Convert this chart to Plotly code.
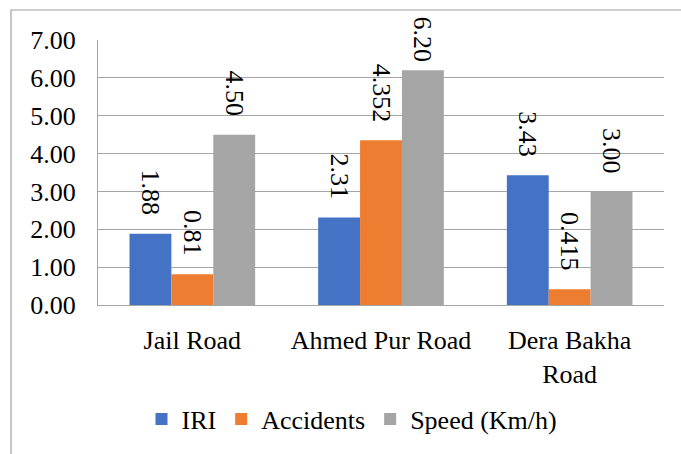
import plotly.graph_objects as go

categories = ["Jail Road", "Ahmed Pur Road", "Dera Bakha<br>Road"]
iri = [1.88, 2.31, 3.43]
accidents = [0.81, 4.352, 0.415]
speed = [4.50, 6.20, 3.00]
iri_labels = ["1.88", "2.31", "3.43"]
acc_labels = ["0.81", "4.352", "0.415"]
speed_labels = ["4.50", "6.20", "3.00"]
tick_vals = [0, 1, 2, 3, 4, 5, 6, 7]
tick_text = ["0.00", "1.00", "2.00", "3.00", "4.00", "5.00", "6.00", "7.00"]

W, H = 681, 454
ML, MR, MT, MB = 98, 17, 40, 149
FONT = "Liberation Serif, Times New Roman, serif"
FS = 26
BARGAP = 0.334
YMAX = 7

series = [
    ("IRI", iri, iri_labels, "#4472C4"),
    ("Accidents", accidents, acc_labels, "#ED7D31"),
    ("Speed (Km/h)", speed, speed_labels, "#A5A5A5"),
]

fig = go.Figure()
for name, vals, _, col in series:
    fig.add_trace(go.Bar(x=categories, y=vals, name=name, marker_color=col,
                         marker_line_width=0, hoverinfo="skip"))

plot_w = W - ML - MR
plot_h = H - MT - MB
bar_w = plot_w / len(categories) * (1 - BARGAP) / len(series)
px_per_unit = plot_h / YMAX

annotations = []
for i, (name, vals, labels, col) in enumerate(series):
    xs = (i - 1) * bar_w
    for c, v, lab in zip(categories, vals, labels):
        label_len = len(lab) * 0.5 * FS * 0.95
        top_px = MT + plot_h - v * px_per_unit  # bar top in pixels
        gap = 16
        if top_px - gap - label_len < 18:
            gap = max(6, top_px - 18 - label_len)
        annotations.append(dict(
            x=c, y=v, xref="x", yref="y", text=lab, showarrow=False,
            textangle=90, xanchor="center", yanchor="bottom",
            xshift=xs, yshift=gap,
            font=dict(family=FONT, size=FS, color="#000000")))

legend_center_px = 419
legend_center_x_px = 352
fig.update_layout(
    width=W, height=H,
    margin=dict(l=ML, r=MR, t=MT, b=MB, autoexpand=False),
    paper_bgcolor="white", plot_bgcolor="white",
    barmode="group", bargap=BARGAP, bargroupgap=0,
    font=dict(family=FONT, size=FS, color="#000000"),
    showlegend=True,
    legend=dict(orientation="h", x=(legend_center_x_px - ML) / plot_w, xanchor="center",
                y=-(legend_center_px - MT - plot_h) / plot_h, yanchor="middle",
                font=dict(family=FONT, size=FS, color="#000000"), itemwidth=30,
                traceorder="normal", bgcolor="rgba(0,0,0,0)"),
    annotations=annotations,
    xaxis=dict(showgrid=False, showline=True, linecolor="#a6a6a6", linewidth=1,
               ticks="", tickfont=dict(family=FONT, size=FS), fixedrange=True,
               ticklabelstandoff=12, automargin=False),
    yaxis=dict(range=[0, YMAX], tickvals=tick_vals, ticktext=tick_text,
               showgrid=True, gridcolor="#a6a6a6", gridwidth=1,
               showline=True, linecolor="#a6a6a6", linewidth=1, fixedrange=True,
               zeroline=False, ticks="", ticklabelstandoff=16, automargin=False,
               tickfont=dict(family=FONT, size=FS)),
    shapes=[dict(type="rect", xref="paper", yref="paper",
                 x0=(11 - ML) / plot_w, x1=(W + 20 - ML) / plot_w,
                 y0=-(H + 20 - MT - plot_h) / plot_h, y1=(MT + plot_h - 10) / plot_h,
                 line=dict(color="#a0a0a0", width=1.2), fillcolor="rgba(0,0,0,0)",
                 layer="below")],
)

fig.write_html("out.html", config={"displayModeBar": False, "staticPlot": True},
               post_script="document.body.style.margin='0';document.body.style.overflow='hidden';")
